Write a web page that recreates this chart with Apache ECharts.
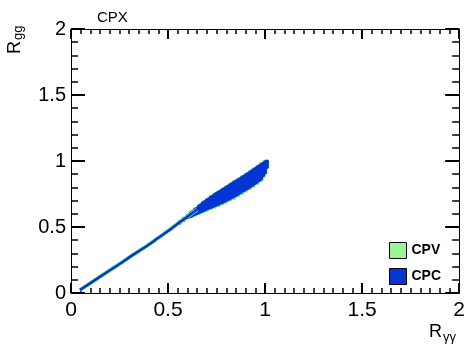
<!DOCTYPE html>
<html><head><meta charset="utf-8">
<script src="https://cdn.jsdelivr.net/npm/echarts@6/dist/echarts.min.js"></script>
<style>html,body{margin:0;padding:0;background:#fff}#c{width:468px;height:351px}</style>
</head><body><div id="c"></div>
<script>
const seriesNames = ['CPV', 'CPC'];
const seriesColors = ['#98f598', '#0535d2'];
const plotLabel = 'CPX';
const xTitle = ['R', 'γγ'];
const yTitle = ['R', 'gg'];

// thin part of the relation (both samples overlap)
const lineX = [0.046, 0.10, 0.15, 0.20, 0.25, 0.30, 0.35, 0.40, 0.45, 0.50, 0.55, 0.60, 0.65];
const lineY = [0.023, 0.075, 0.124, 0.172, 0.22, 0.27, 0.318, 0.366, 0.418, 0.47, 0.525, 0.578, 0.632];

// spread region, CPC points (columns)
const cpcBandX = [0.56, 0.58, 0.60, 0.61, 0.62, 0.63, 0.64, 0.65, 0.66, 0.67, 0.68, 0.69, 0.70, 0.71, 0.72, 0.73, 0.74, 0.75, 0.76, 0.77, 0.78, 0.79, 0.80, 0.81, 0.82, 0.83, 0.84, 0.85, 0.86, 0.87, 0.88, 0.89, 0.90, 0.91, 0.92, 0.93, 0.94, 0.95, 0.96, 0.97, 0.98, 0.99, 1.00, 1.01];
const cpcBandY = [
  [0.533, 0.54], [0.553, 0.562], [0.572, 0.584], [0.58, 0.594],
  [0.586, 0.60, 0.607], [0.593, 0.607, 0.618],
  [0.60, 0.615, 0.63], [0.606, 0.622, 0.64],
  [0.613, 0.628, 0.643, 0.655], [0.62, 0.636, 0.652, 0.667],
  [0.627, 0.642, 0.657, 0.672, 0.68], [0.633, 0.65, 0.667, 0.684, 0.69],
  [0.64, 0.655, 0.67, 0.685, 0.70], [0.646, 0.662, 0.678, 0.694, 0.711],
  [0.652, 0.667, 0.682, 0.697, 0.712, 0.722], [0.658, 0.674, 0.69, 0.706, 0.722, 0.732],
  [0.665, 0.68, 0.695, 0.71, 0.725, 0.742], [0.671, 0.687, 0.703, 0.719, 0.735, 0.751],
  [0.677, 0.692, 0.707, 0.722, 0.737, 0.76], [0.683, 0.699, 0.715, 0.731, 0.747, 0.769],
  [0.69, 0.705, 0.72, 0.735, 0.75, 0.765, 0.778], [0.697, 0.713, 0.729, 0.745, 0.761, 0.777, 0.788],
  [0.705, 0.72, 0.735, 0.75, 0.765, 0.78, 0.797], [0.712, 0.728, 0.744, 0.76, 0.776, 0.792, 0.806],
  [0.72, 0.735, 0.75, 0.765, 0.78, 0.80, 0.816], [0.727, 0.743, 0.759, 0.775, 0.791, 0.809, 0.825],
  [0.735, 0.75, 0.765, 0.78, 0.795, 0.815, 0.835], [0.743, 0.759, 0.775, 0.791, 0.807, 0.824, 0.844],
  [0.752, 0.767, 0.782, 0.797, 0.812, 0.83, 0.853], [0.761, 0.777, 0.793, 0.809, 0.825, 0.842, 0.862],
  [0.77, 0.785, 0.80, 0.815, 0.83, 0.85, 0.872], [0.778, 0.794, 0.81, 0.826, 0.842, 0.862, 0.881],
  [0.787, 0.802, 0.817, 0.832, 0.85, 0.87, 0.891], [0.796, 0.812, 0.828, 0.844, 0.862, 0.881, 0.90],
  [0.805, 0.82, 0.835, 0.85, 0.87, 0.89, 0.91], [0.815, 0.831, 0.847, 0.863, 0.881, 0.90, 0.92],
  [0.825, 0.84, 0.855, 0.87, 0.89, 0.91, 0.93], [0.835, 0.851, 0.867, 0.883, 0.901, 0.92, 0.94],
  [0.845, 0.86, 0.875, 0.89, 0.91, 0.93, 0.95], [0.856, 0.872, 0.888, 0.904, 0.922, 0.941, 0.96],
  [0.868, 0.883, 0.898, 0.913, 0.93, 0.95, 0.97], [0.89, 0.905, 0.92, 0.935, 0.952, 0.968, 0.98],
  [0.915, 0.93, 0.945, 0.96, 0.975, 0.99], [0.955, 0.97, 0.985, 0.997]
];

// spread region, CPV points (columns)
const cpvBandX = [0.62, 0.64, 0.66, 0.68, 0.70, 0.72, 0.74, 0.76, 0.78, 0.80, 0.82, 0.84, 0.86, 0.88, 0.90, 0.92, 0.94, 0.96, 0.98, 1.00];
const cpvBandY = [
  [0.583, 0.61], [0.595, 0.634], [0.607, 0.66], [0.618, 0.684], [0.63, 0.705], [0.642, 0.727],
  [0.655, 0.747], [0.667, 0.765], [0.68, 0.783], [0.693, 0.802],
  [0.708, 0.821], [0.722, 0.84], [0.74, 0.858], [0.758, 0.877], [0.776, 0.896],
  [0.795, 0.915], [0.815, 0.935], [0.836, 0.955], [0.858, 0.975], [0.905, 0.995]
];

function pairs(xs, ys) { return xs.map((x, i) => [x, ys[i]]); }
function cols(xs, yss) { const out = []; xs.forEach((x, i) => yss[i].forEach(y => out.push([x, y]))); return out; }

const FONT = 'Liberation Sans, Arial, Helvetica, sans-serif';
const chart = echarts.init(document.getElementById('c'));

function ax(pos, showLabel, fs, margin, majorLen, minorLen, minorSplit) {
  return {
    type: 'value', min: 0, max: 2, interval: 0.5, position: pos,
    axisLine: { show: true, onZero: false, lineStyle: { color: '#000' } },
    axisTick: { show: true, inside: true, length: majorLen, lineStyle: { color: '#000', width: 2 } },
    minorTick: { show: true, splitNumber: minorSplit, length: minorLen, lineStyle: { color: '#000', width: 1.5 } },
    splitLine: { show: false },
    axisLabel: { show: showLabel, color: '#000', fontSize: fs, fontFamily: FONT, margin: margin }
  };
}

const option = {
  animation: false,
  grid: { left: 71, right: 7, top: 29, bottom: 58 },
  xAxis: [ax('bottom', true, 21, 7, 10, 5, 10), ax('top', false, 21, 7, 10, 5, 10)],
  yAxis: [ax('left', true, 20, 5, 14, 7, 5), ax('right', false, 20, 5, 14, 7, 5)],
  legend: {
    orient: 'vertical', left: 389, top: 242, padding: 0, itemWidth: 17, itemHeight: 16, itemGap: 9,
    textStyle: { fontSize: 14, fontWeight: 'bold', fontFamily: FONT, color: '#000' },
    data: seriesNames.map((n, i) => ({ name: n, icon: 'rect', itemStyle: { color: seriesColors[i], borderColor: '#000', borderWidth: 1, opacity: 1 } }))
  },
  graphic: [
    { type: 'text', left: 97, top: 10, style: { text: plotLabel, font: '15px ' + FONT, fill: '#000' } },
    { type: 'text', left: 429, top: 323, style: { text: xTitle[0], font: '18px ' + FONT, fill: '#000' } },
    { type: 'text', left: 443, top: 331, style: { text: xTitle[1], font: '13px ' + FONT, fill: '#000' } },
    { type: 'text', x: 24, y: 54, rotation: Math.PI / 2, style: { text: yTitle[0], font: '18px ' + FONT, fill: '#000', textAlign: 'left', textVerticalAlign: 'bottom' } },
    { type: 'text', x: 25, y: 40, rotation: Math.PI / 2, style: { text: yTitle[1], font: '13px ' + FONT, fill: '#000', textAlign: 'left', textVerticalAlign: 'bottom' } }
  ],
  series: [
    { name: seriesNames[0], type: 'line', data: pairs(lineX, lineY), showSymbol: false, smooth: true,
      itemStyle: { color: seriesColors[0] }, lineStyle: { color: '#7fe27f', width: 4 } },
    { name: seriesNames[0], type: 'scatter', data: cols(cpvBandX, cpvBandY), symbol: 'circle', symbolSize: 4.5,
      itemStyle: { color: '#7fe27f', opacity: 1, borderWidth: 0 } },
    { name: seriesNames[1], type: 'line', data: pairs(lineX, lineY), showSymbol: false, smooth: true,
      itemStyle: { color: seriesColors[1] }, lineStyle: { color: seriesColors[1], width: 2.5 } },
    { name: seriesNames[1], type: 'scatter', data: cols(cpcBandX, cpcBandY), symbol: 'circle', symbolSize: 4,
      itemStyle: { color: seriesColors[1], opacity: 1, borderWidth: 0 } }
  ]
};
chart.setOption(option);
</script>
</body></html>
